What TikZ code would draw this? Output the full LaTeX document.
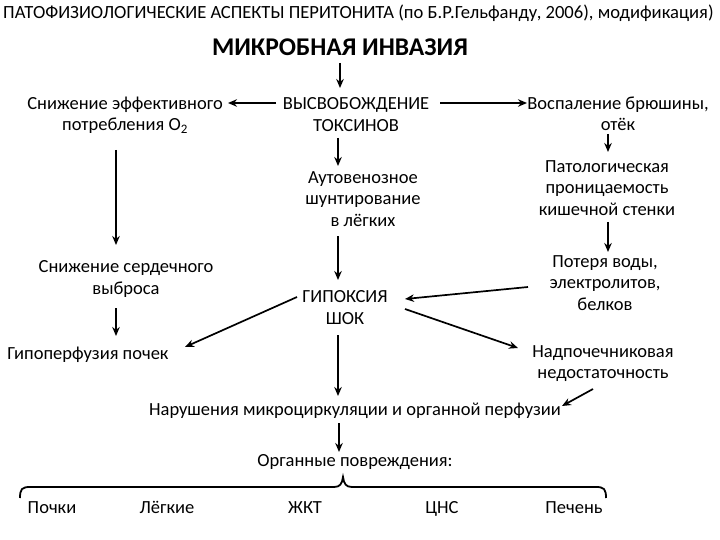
\documentclass[tikz,border=0pt]{standalone}
\usepackage{fontspec}
\setmainfont{Carlito}
\usetikzlibrary{arrows.meta,calc}
\begin{document}
\begin{tikzpicture}[x=1pt,y=-1pt,
  txt/.style={font=\fontsize{18.5}{21.5}\selectfont, align=center, inner sep=0pt},
  lbl/.style={font=\fontsize{18.5}{21.5}\selectfont, inner sep=0pt, anchor=base},
  ttl/.style={font=\fontsize{18.6}{20}\selectfont, inner sep=0pt},
  big/.style={font=\fontsize{25.5}{28}\selectfont\bfseries, inner sep=0pt},
  arr/.style={-{Stealth[length=9pt,width=7.5pt]}, line width=1.7pt},
  brc/.style={line width=1.8pt}]
\useasboundingbox (0,0) rectangle (720,540);
\node[ttl, anchor=base west] (title) at (3,19) {ПАТОФИЗИОЛОГИЧЕСКИЕ АСПЕКТЫ ПЕРИТОНИТА (по Б.Р.Гельфанду, 2006), модификация)};
\node[big, anchor=base] (micro) at (340,56) {МИКРОБНАЯ ИНВАЗИЯ};
\node[txt] (tox) at (356,114.5) {ВЫСВОБОЖДЕНИЕ\\ТОКСИНОВ};
\node[txt] (o2) at (125,115) {Снижение эффективного\\потребления O\textsubscript{2}};
\node[txt] (infl) at (618,114) {Воспаление брюшины,\\отёк};
\node[txt] (perm) at (607,188) {Патологическая\\проницаемость\\кишечной стенки};
\node[txt] (shunt) at (363,199) {Аутовенозное\\шунтирование\\в лёгких};
\node[txt] (water) at (605,283) {Потеря воды,\\электролитов,\\белков};
\node[txt] (hyp) at (345,307.5) {ГИПОКСИЯ\\ШОК};
\node[txt] (heart) at (126,279) {Снижение сердечного\\выброса};
\node[lbl] (kid) at (88,359) {Гипоперфузия почек};
\node[txt] (adr) at (603,363.5) {Надпочечниковая\\недостаточность};
\node[lbl] (micro2) at (355,415) {Нарушения микроциркуляции и органной перфузии};
\node[lbl] (organ) at (355,466) {Органные повреждения:};
\node[lbl] (p1) at (52,513) {Почки};
\node[lbl] (p2) at (167,513) {Лёгкие};
\node[lbl] (p3) at (305,513) {ЖКТ};
\node[lbl] (p4) at (442,513) {ЦНС};
\node[lbl] (p5) at (574,513) {Печень};
% connectors
\draw[arr] ($(micro.base)+(0,7)$) -- ($(tox.center)+(-16,-26.5)$);
\draw[arr] ($(tox.center)+(-80,-11.5)$) -- ($(o2.center)+(103,-12)$);
\draw[arr] ($(tox.center)+(84,-11.5)$) -- ($(infl.center)+(-91,-11)$);
\draw[arr] ($(infl.center)+(-10,20)$) -- ($(perm.center)+(1,-36)$);
\draw[arr] ($(perm.center)+(1,34)$) -- ($(water.center)+(3,-31)$);
\draw[arr] ($(tox.center)+(-18,23.5)$) -- ($(shunt.center)+(-25,-33)$);
\draw[arr] ($(shunt.center)+(-25,37)$) -- ($(hyp.center)+(-7,-27.5)$);
\draw[arr] ($(o2.center)+(-9,35)$) -- ($(heart.center)+(-10,-34)$);
\draw[arr] ($(heart.center)+(-10,29)$) -- ($(kid.base)+(28,-23)$);
\draw[arr] ($(water.center)+(-77,4)$) -- ($(hyp.center)+(60,-8.5)$);
\draw[arr] ($(hyp.center)+(-48,-10.5)$) -- ($(kid.base)+(97,-12)$);
\draw[arr] ($(hyp.center)+(60,1.5)$) -- ($(adr.center)+(-85,-15.5)$);
\draw[arr] ($(hyp.center)+(-7,27.5)$) -- ($(micro2.base)+(-17,-19)$);
\draw[arr] ($(adr.center)+(-10,25.5)$) -- ($(micro2.base)+(207,-9)$);
\draw[arr] ($(micro2.base)+(-16,8)$) -- ($(organ.base)+(-16,-14)$);
% brace
\draw[brc] (20,498) .. controls (20,489) and (22,487) .. (30,487) -- (334,487)
  .. controls (340,487) and (342,484) .. (343,477)
  .. controls (344,484) and (346,487) .. (352,487) -- (596,487)
  .. controls (604,487) and (606,489) .. (606,498);
\end{tikzpicture}
\end{document}
